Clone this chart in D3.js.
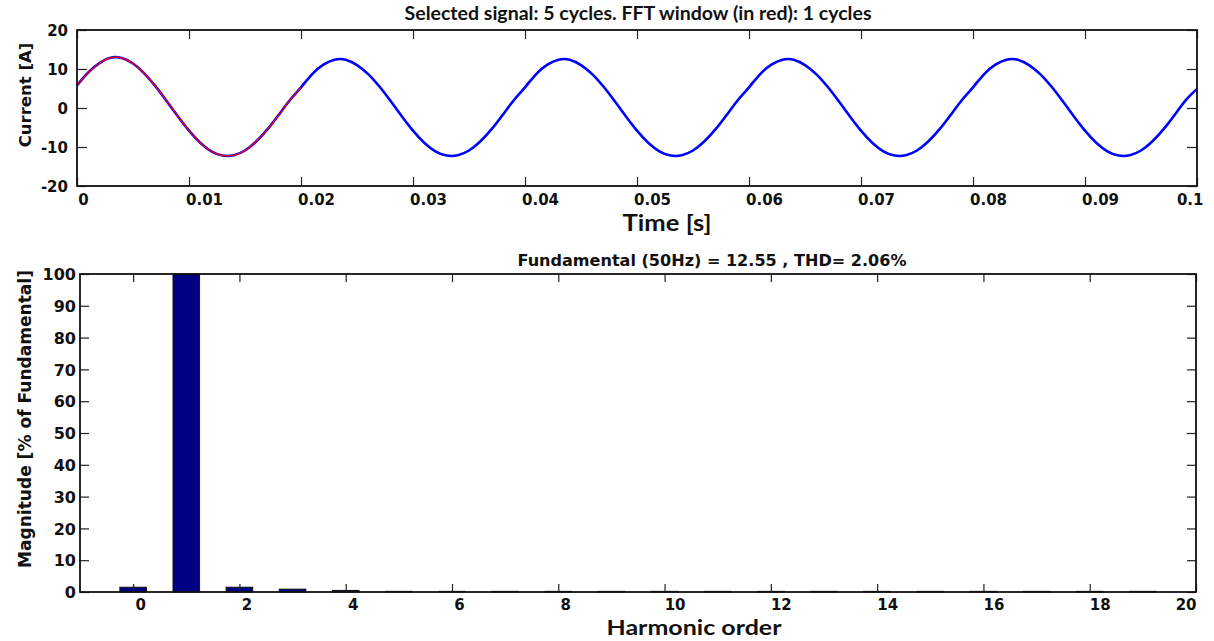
<!DOCTYPE html>
<html>
<head>
<meta charset="utf-8">
<script src="https://cdn.jsdelivr.net/npm/d3@7"></script>
<style>
  body { margin: 0; background: #fff; }
  .tick text { font-family: "DejaVu Sans", sans-serif; font-weight: bold; fill: #111; }
  .tick line { stroke: #222; stroke-width: 1.2; }
</style>
</head>
<body>
<svg id="chart" width="1214" height="641"></svg>
<script>
// current samples, one every 1 ms, t = 0 .. 0.1 s
const sampleStep = 0.001;
const current = [
  5.8, 9.1, 11.5, 12.9, 12.8, 11.4, 8.9, 5.6, 1.8, -2.1,
  -5.8, -8.9, -11.1, -12.2, -12.1, -10.9, -8.6, -5.5, -1.8, 2.0,
  5.3, 8.7, 11.1, 12.4, 12.4, 11.0, 8.7, 5.5, 1.8, -2.1,
  -5.8, -8.9, -11.1, -12.2, -12.1, -10.9, -8.6, -5.5, -1.8, 2.0,
  5.3, 8.7, 11.1, 12.4, 12.4, 11.0, 8.7, 5.5, 1.8, -2.1,
  -5.8, -8.9, -11.1, -12.2, -12.1, -10.9, -8.6, -5.5, -1.8, 2.0,
  5.3, 8.7, 11.1, 12.4, 12.4, 11.0, 8.7, 5.5, 1.8, -2.1,
  -5.8, -8.9, -11.1, -12.2, -12.1, -10.9, -8.6, -5.5, -1.8, 2.0,
  5.3, 8.7, 11.1, 12.4, 12.4, 11.0, 8.7, 5.5, 1.8, -2.1,
  -5.8, -8.9, -11.1, -12.2, -12.1, -10.9, -8.6, -5.5, -1.8, 2.0,
  4.9
];
const fftWindowSamples = 21; // first cycle, 0 .. 0.02 s

const harmonicOrder = [0, 1, 2, 3, 4, 5, 6, 7, 8, 9, 10, 11, 12, 13, 14, 15, 16, 17, 18, 19];
const magnitude = [1.5, 100, 1.5, 0.9, 0.5, 0.2, 0.2, 0.2, 0.2, 0.2, 0.2, 0.2, 0.2, 0.2, 0.2, 0.2, 0.2, 0.2, 0.2, 0.2];

const timeTicks = [0, 0.01, 0.02, 0.03, 0.04, 0.05, 0.06, 0.07, 0.08, 0.09, 0.1];
const currentTicks = [-20, -10, 0, 10, 20];
const orderTicks = [0, 2, 4, 6, 8, 10, 12, 14, 16, 18, 20];
const magTicks = [0, 10, 20, 30, 40, 50, 60, 70, 80, 90, 100];

const title1 = "Selected signal: 5 cycles. FFT window (in red): 1 cycles";
const title2 = "Fundamental (50Hz) = 12.55 , THD= 2.06%";

const svg = d3.select("#chart");
svg.append("rect").attr("width", 1214).attr("height", 641).attr("fill", "#fff");

// ---------- top: time signal ----------
const sigBox = { left: 77, right: 1197, top: 30, bottom: 186 };
const x1 = d3.scaleLinear().domain([0, 0.1]).range([sigBox.left, sigBox.right]);
const y1 = d3.scaleLinear().domain([-20, 20]).range([sigBox.bottom, sigBox.top]);

const samples = current.map((v, i) => ({ t: i * sampleStep, v }));
const line1 = d3.line().x(d => x1(d.t)).y(d => y1(d.v)).curve(d3.curveNatural);

const g1 = svg.append("g");

function axisTicks(g, xs, ys, xt, yt, box, tickLen) {
  // bottom / top x ticks and left / right y ticks, all pointing inward
  const bx = g.append("g").attr("transform", `translate(0,${box.bottom})`)
    .call(d3.axisBottom(xs).tickValues(xt).tickSizeInner(-tickLen).tickSizeOuter(0));
  bx.select(".domain").remove();
  const tx = g.append("g").attr("transform", `translate(0,${box.top})`)
    .call(d3.axisTop(xs).tickValues(xt).tickSizeInner(-tickLen).tickSizeOuter(0).tickFormat(""));
  tx.select(".domain").remove();
  const ly = g.append("g").attr("transform", `translate(${box.left},0)`)
    .call(d3.axisLeft(ys).tickValues(yt).tickSizeInner(-tickLen - 1).tickSizeOuter(0).tickFormat(d => String(d)));
  ly.select(".domain").remove();
  const ry = g.append("g").attr("transform", `translate(${box.right},0)`)
    .call(d3.axisRight(ys).tickValues(yt).tickSizeInner(-tickLen - 1).tickSizeOuter(0).tickFormat(""));
  ry.select(".domain").remove();
  return { bx, ly };
}

g1.append("path").datum(samples)
  .attr("fill", "none").attr("stroke", "#0000ff").attr("stroke-width", 2.6)
  .attr("d", line1);
g1.append("path").datum(samples.slice(0, fftWindowSamples))
  .attr("fill", "none").attr("stroke", "#ff0000").attr("stroke-width", 1.2)
  .attr("d", line1);

const a1 = axisTicks(g1, x1, y1, timeTicks, currentTicks, sigBox, 9);
a1.bx.selectAll(".tick text")
  .style("font-size", "15px")
  .attr("y", 19).attr("dy", 0)
  .attr("text-anchor", d => d === 0.1 ? "end" : "middle")
  .attr("dx", d => d === 0 ? 6 : d === 0.1 ? 6 : 15)
  .text(d => String(d));
a1.ly.selectAll(".tick text")
  .style("font-size", "15px")
  .attr("x", -9).attr("dy", "0.36em");

g1.append("rect")
  .attr("x", sigBox.left).attr("y", sigBox.top)
  .attr("width", sigBox.right - sigBox.left).attr("height", sigBox.bottom - sigBox.top)
  .attr("fill", "none").attr("stroke", "#111").attr("stroke-width", 1.8);

svg.append("text")
  .attr("x", 638).attr("y", 20)
  .attr("text-anchor", "middle")
  .attr("textLength", 467).attr("lengthAdjust", "spacingAndGlyphs")
  .style("font-family", "Lato, sans-serif").style("font-weight", "bold")
  .style("font-size", "18px").attr("fill", "#111")
  .text(title1);

svg.append("text")
  .attr("x", 667).attr("y", 231)
  .attr("text-anchor", "middle")
  .attr("textLength", 89).attr("lengthAdjust", "spacingAndGlyphs")
  .style("font-family", "Lato, sans-serif").style("font-weight", "bold")
  .style("font-size", "23px").attr("fill", "#111")
  .text("Time [s]");

svg.append("text")
  .attr("transform", "translate(31,95) rotate(-90)")
  .attr("text-anchor", "middle")
  .style("font-family", "'DejaVu Sans', sans-serif").style("font-weight", "bold")
  .style("font-size", "16.5px").attr("fill", "#111")
  .text("Current [A]");

// ---------- bottom: harmonic spectrum ----------
const fftBox = { left: 80, right: 1196, top: 274, bottom: 592 };
const x2 = d3.scaleLinear().domain([-1, 20]).range([fftBox.left, fftBox.right]);
const y2 = d3.scaleLinear().domain([0, 100]).range([fftBox.bottom, fftBox.top]);
const barW = x2(0.25) - x2(-0.25);

const g2 = svg.append("g");

g2.selectAll("rect.bar")
  .data(harmonicOrder.map((h, i) => ({ h, m: magnitude[i] })))
  .enter().append("rect")
  .attr("class", "bar")
  .attr("x", d => x2(d.h) - barW / 2)
  .attr("y", d => y2(d.m))
  .attr("width", barW)
  .attr("height", d => y2(0) - y2(d.m))
  .attr("fill", "#000080")
  .attr("stroke", "#111").attr("stroke-width", 1);

const a2 = axisTicks(g2, x2, y2, orderTicks, magTicks, fftBox, 8);
a2.bx.selectAll(".tick text")
  .style("font-size", "15px")
  .attr("y", 18).attr("dy", 0)
  .attr("text-anchor", d => d === 20 ? "end" : "middle")
  .attr("dx", d => d === 20 ? 0 : d < 10 ? 7 : 10);
a2.ly.selectAll(".tick text")
  .style("font-size", "16px")
  .attr("x", -4).attr("dy", "0.36em");

g2.append("rect")
  .attr("x", fftBox.left).attr("y", fftBox.top)
  .attr("width", fftBox.right - fftBox.left).attr("height", fftBox.bottom - fftBox.top)
  .attr("fill", "none").attr("stroke", "#111").attr("stroke-width", 1.8);

svg.append("text")
  .attr("x", 712).attr("y", 266)
  .attr("text-anchor", "middle")
  .attr("textLength", 389).attr("lengthAdjust", "spacingAndGlyphs")
  .style("font-family", "'DejaVu Sans', sans-serif").style("font-weight", "bold")
  .style("font-size", "15px").attr("fill", "#111")
  .text(title2);

svg.append("text")
  .attr("x", 694).attr("y", 635)
  .attr("text-anchor", "middle")
  .attr("textLength", 175).attr("lengthAdjust", "spacingAndGlyphs")
  .style("font-family", "Lato, sans-serif").style("font-weight", "bold")
  .style("font-size", "21px").attr("fill", "#111")
  .text("Harmonic order");

svg.append("text")
  .attr("transform", "translate(31,419) rotate(-90)")
  .attr("text-anchor", "middle")
  .attr("textLength", 298).attr("lengthAdjust", "spacingAndGlyphs")
  .style("font-family", "'DejaVu Sans', sans-serif").style("font-weight", "bold")
  .style("font-size", "17.5px").attr("fill", "#111")
  .text("Magnitude [% of Fundamental]");
</script>
</body>
</html>
